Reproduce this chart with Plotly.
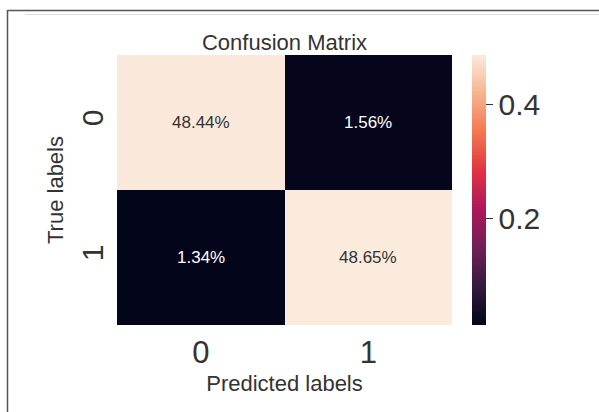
import plotly.graph_objects as go

# data
pred_labels = ["0", "1"]
true_labels = ["0", "1"]
values = [[0.4844, 0.0156],
          [0.0134, 0.4865]]
cell_text = [["48.44%", "1.56%"],
             ["1.34%", "48.65%"]]
cbar_ticks = [0.2, 0.4]

W, H = 599, 412
L, R, T, B = 117, 147, 55, 87
pw, ph = W - L - R, H - T - B

rocket = [
    [0.0, "#03051a"], [0.143, "#35193e"], [0.286, "#701f57"],
    [0.429, "#ad1759"], [0.571, "#e13342"], [0.714, "#f37651"],
    [0.857, "#f6b48f"], [1.0, "#faebdd"],
]

FONT = "Liberation Sans, Arial, sans-serif"
GRAY = "#333333"

fig = go.Figure(go.Heatmap(
    x=pred_labels, y=true_labels, z=values,
    colorscale=rocket, zmin=min(min(r) for r in values), zmax=max(max(r) for r in values),
    xgap=0, ygap=0,
    colorbar=dict(
        x=(472 - L) / pw, xanchor="left", xpad=0, ypad=0,
        y=0.5, yanchor="middle", len=1, lenmode="fraction",
        thickness=14, thicknessmode="pixels", outlinewidth=0,
        tickvals=cbar_ticks, ticktext=[f"{v:.1f}" for v in cbar_ticks],
        ticks="outside", ticklen=7, tickwidth=1, tickcolor=GRAY,
        tickfont=dict(size=30, color=GRAY, family=FONT),
    ),
    showscale=True, hoverinfo="skip",
))

for i, yl in enumerate(true_labels):
    for j, xl in enumerate(pred_labels):
        dark = values[i][j] < 0.25
        fig.add_annotation(x=xl, y=yl, text=cell_text[i][j], showarrow=False,
                           font=dict(size=17, family=FONT,
                                     color="#ffffff" if dark else GRAY))

px2x = lambda p: (p - L) / pw
px2y = lambda p: (H - B - p) / ph
fig.add_shape(type="line", xref="paper", yref="paper", x0=px2x(7.5), x1=px2x(7.5),
              y0=px2y(10), y1=px2y(H), line=dict(color="#555555", width=1.5))
fig.add_shape(type="line", xref="paper", yref="paper", x0=px2x(7.5), x1=px2x(W),
              y0=px2y(10.5), y1=px2y(10.5), line=dict(color="#555555", width=1.5))
fig.add_shape(type="line", xref="paper", yref="paper", x0=px2x(25), x1=px2x(W),
              y0=px2y(14.5), y1=px2y(14.5), line=dict(color="#dddddd", width=1))

fig.update_layout(
    width=W, height=H,
    margin=dict(l=L, r=R, t=T, b=B, pad=0),
    paper_bgcolor="white", plot_bgcolor="white",
    font=dict(family=FONT, color=GRAY),
    title=dict(text="Confusion Matrix", x=0.5, xref="paper", xanchor="center",
               y=1, yref="paper", yanchor="bottom", pad=dict(b=5),
               font=dict(size=22, color=GRAY, family=FONT)),
    xaxis=dict(title=dict(text="Predicted labels", font=dict(size=22, color=GRAY), standoff=6),
               tickfont=dict(size=31, color=GRAY), showgrid=False, zeroline=False,
               ticks="", ticklabelstandoff=6, showline=False),
    yaxis=dict(title=dict(text="True labels", font=dict(size=22, color=GRAY), standoff=6),
               tickfont=dict(size=30, color=GRAY), showgrid=False, zeroline=False,
               autorange="reversed", tickangle=-90, ticks="", ticklabelstandoff=7,
               showline=False),
)

fig.write_html("out.html",
               config={"displayModeBar": False, "staticPlot": True},
               post_script="document.body.style.margin='0px';document.body.style.overflow='hidden';")
